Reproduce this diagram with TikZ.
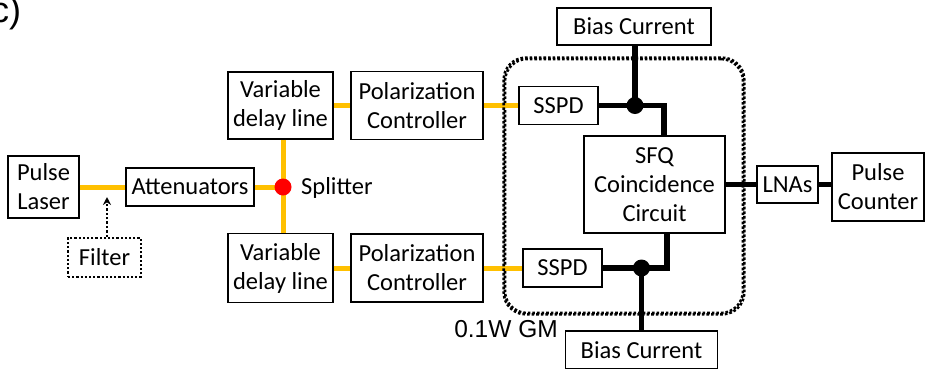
\documentclass[tikz,border=0pt]{standalone}
\usepackage{fontspec}
\setmainfont{Carlito}
\newfontfamily\arialfont{Liberation Sans}
\usetikzlibrary{arrows.meta}
\definecolor{fibre}{HTML}{FFC000}
\tikzset{
  box/.style={draw=black, line width=1.8pt, fill=white, inner sep=0pt,
    align=center, font=\fontsize{24.5}{29}\selectfont},
  optic/.style={draw=fibre, line width=5pt},
  wire/.style={draw=black, line width=5.5pt, line join=miter},
  junction/.style={circle, fill=black, inner sep=0pt, minimum size=17pt},
  dotframe/.style={draw=black, line width=2.6pt, dash pattern=on 2.6pt off 2pt,
    rounded corners=22pt, inner sep=0pt},
  dotbox/.style={box, line width=2.2pt, dash pattern=on 2.2pt off 2pt},
  plainlabel/.style={inner sep=0pt, font=\fontsize{24.5}{29}\selectfont}
}
\begin{document}
\begin{tikzpicture}[x=1pt, y=-1pt]
\useasboundingbox (0,0) rectangle (925,368);

% panel letter
\node[anchor=base west, inner sep=0pt, font=\arialfont\fontsize{36}{40}\selectfont] (panel) at (-9,22) {c)};

% cryostat enclosure
\node[dotframe, minimum width=238pt, minimum height=254pt] (cryo) at (624,186) {};

% optical path
\node[box, minimum width=71pt, minimum height=62pt] (laser) at (43.5,187) {Pulse\\Laser};
\node[box, minimum width=128pt, minimum height=38pt] (atten) at (190,187) {Attenuators};
\node[dotbox, minimum width=73pt, minimum height=39pt] (filter) at (104.5,257.5) {Filter};
\node[box, minimum width=105pt, minimum height=67pt] (vdlT) at (280.5,105.5) {Variable\\delay line};
\node[box, minimum width=105pt, minimum height=69pt] (vdlB) at (280.5,268) {Variable\\delay line};
\node[box, minimum width=132pt, minimum height=68pt] (pcT) at (417,105.5) {Polarization\\Controller};
\node[box, minimum width=132pt, minimum height=68pt] (pcB) at (417,268) {Polarization\\Controller};
\node[box, minimum width=79pt, minimum height=38pt] (sspdT) at (558.5,105.5) {SSPD};
\node[box, minimum width=79pt, minimum height=38pt] (sspdB) at (562.5,268) {SSPD};

% electronics
\node[box, minimum width=141pt, minimum height=97pt] (sfq) at (654.5,184.5) {SFQ\\Coincidence\\Circuit};
\node[box, minimum width=61pt, minimum height=37pt] (lnas) at (787.5,184.5) {LNAs};
\node[box, minimum width=92pt, minimum height=68pt] (counter) at (878,187) {Pulse\\Counter};
\node[box, minimum width=154pt, minimum height=37pt] (biasT) at (634,26.5) {Bias Current};
\node[box, minimum width=152pt, minimum height=38pt] (biasB) at (641.5,350) {Bias Current};

% fibre connections
\coordinate (split) at (283,187);
\draw[optic] (laser.east) -- (atten.west);
\draw[optic] (atten.east) -- (split);
\draw[optic] (vdlT.south -| split) -- (vdlB.north -| split);
\draw[optic] (vdlT.east) -- (pcT.west);
\draw[optic] (pcT.east) -- (sspdT.west);
\draw[optic] (vdlB.east) -- (pcB.west);
\draw[optic] (pcB.east) -- (sspdB.west);
\node[circle, fill=red, inner sep=0pt, minimum size=17pt] (splitdot) at (split) {};
\node[plainlabel, anchor=west] (splitlabel) at (301,188) {Splitter};

% optional filter
\coordinate (ftip) at (107,197);
\draw[line width=2.4pt, dash pattern=on 2.4pt off 2pt, -{Stealth[length=8pt,width=8pt]}] (filter.north -| ftip) -- (ftip);

% electrical wiring
\coordinate (jT) at (635,105.5);
\coordinate (cornerT) at (664,105.5);
\coordinate (jB) at (641.5,268);
\coordinate (cornerB) at (667,268);
\draw[wire] (sspdT.east) -- (cornerT) -- (cornerT |- sfq.north);
\draw[wire] (biasT.south -| jT) -- (jT);
\draw[wire] (sspdB.east) -- (cornerB) -- (cornerB |- sfq.south);
\draw[wire] (jB) -- (biasB.north -| jB);
\node[junction] (jTdot) at (jT) {};
\node[junction] (jBdot) at (jB) {};
\draw[wire] (sfq.east) -- (lnas.west);
\draw[wire] (lnas.east) -- (counter.west |- lnas.east);

% redraw enclosure outline over the crossing lines
\draw[draw=black, line width=2.6pt, dash pattern=on 2.6pt off 2pt, rounded corners=22pt]
  (cryo.north west) rectangle (cryo.south east);

\node[plainlabel, font=\arialfont\fontsize{24.5}{29}\selectfont] (gm) at (506,329.5) {0.1W GM};
\end{tikzpicture}
\end{document}
